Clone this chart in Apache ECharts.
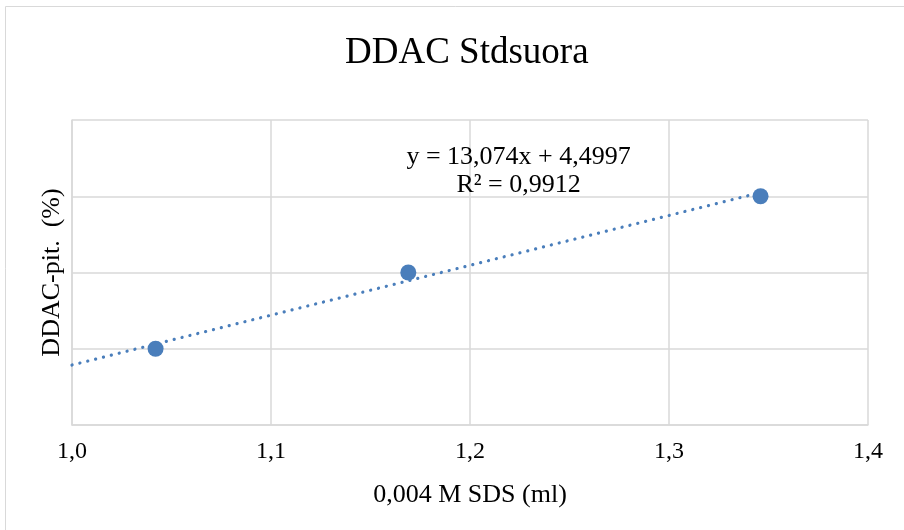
<!DOCTYPE html>
<html>
<head>
<meta charset="utf-8">
<script src="https://cdn.jsdelivr.net/npm/echarts@6/dist/echarts.min.js"></script>
<style>
  html, body { margin: 0; padding: 0; background: #fff; }
  #chart { width: 904px; height: 530px; }
</style>
</head>
<body>
<div id="chart"></div>
<script>
// Measured standards: titrant volume vs. DDAC content
const sdsVolume = [1.042, 1.169, 1.346];
const ddacPercent = [18, 20, 22];

// Linear fit shown on the chart
const slope = 13.074;
const intercept = 4.4997;
const rSquared = 0.9912;
const fitRange = [1.0, 1.346];

const xTicks = { min: 1.0, max: 1.4, interval: 0.1 };
const yTicks = { min: 16, max: 24, interval: 2 };

const fmt = (v, d) => v.toFixed(d).replace('.', ',');
const fitLine = fitRange.map(x => [x, slope * x + intercept]);

const serif = '"Liberation Serif", "Times New Roman", serif';
const blue = '#4a7ebb';
const gridGrey = '#d9d9d9';

const frame = {
  type: 'rect',
  shape: { x: 5.5, y: 6.5, width: 920, height: 540 },
  style: { fill: 'none', stroke: gridGrey, lineWidth: 1 },
  silent: true, z: -10
};

const chart = echarts.init(document.getElementById('chart'));
chart.setOption({
  animation: false,
  graphic: [frame],
  title: {
    text: 'DDAC Stdsuora',
    left: 340,
    top: 30,
    textStyle: { fontFamily: serif, fontSize: 37, fontWeight: 'normal', color: '#000' }
  },
  grid: { left: 72, right: 36, top: 120, bottom: 105 },
  xAxis: {
    type: 'value',
    min: xTicks.min, max: xTicks.max, interval: xTicks.interval,
    name: '0,004 M SDS (ml)',
    nameLocation: 'middle',
    nameGap: 57,
    nameTextStyle: { fontFamily: serif, fontSize: 26, color: '#000' },
    axisLine: { show: true, lineStyle: { color: gridGrey, width: 1.5 } },
    axisTick: { show: false },
    axisLabel: {
      fontFamily: serif, fontSize: 24, color: '#000', margin: 15,
      formatter: v => fmt(v, 1)
    },
    splitLine: { show: true, lineStyle: { color: gridGrey, width: 1.5 } }
  },
  yAxis: {
    type: 'value',
    min: yTicks.min, max: yTicks.max, interval: yTicks.interval,
    name: 'DDAC-pit.  (%)',
    nameLocation: 'middle',
    nameGap: 7,
    nameTextStyle: { fontFamily: serif, fontSize: 26, color: '#000' },
    axisLine: { show: true, lineStyle: { color: gridGrey, width: 1.5 } },
    axisTick: { show: false },
    axisLabel: { show: false },
    splitLine: { show: true, lineStyle: { color: gridGrey, width: 1.5 } }
  },
  series: [
    {
      type: 'line',
      data: fitLine,
      symbol: 'none',
      lineStyle: { color: blue, width: 3.2, type: [0.1, 8], cap: 'round' },
      z: 2,
      silent: true
    },
    {
      type: 'scatter',
      data: sdsVolume.map((x, i) => [x, ddacPercent[i]]),
      symbol: 'circle',
      symbolSize: 16,
      itemStyle: { color: blue, opacity: 1 },
      z: 3
    }
  ]
});

// Equation and R² label placed in data coordinates
const eqPos = chart.convertToPixel({ gridIndex: 0 }, [1.2244, 23.4]);
chart.setOption({
  graphic: [frame, {
    type: 'text',
    x: eqPos[0], y: eqPos[1],
    style: {
      text: 'y = ' + fmt(slope, 3) + 'x + ' + fmt(intercept, 4) + '\nR² = ' + fmt(rSquared, 4),
      font: '26px ' + serif,
      fill: '#000',
      align: 'center',
      verticalAlign: 'top',
      lineHeight: 28
    },
    z: 10
  }]
});
</script>
</body>
</html>
